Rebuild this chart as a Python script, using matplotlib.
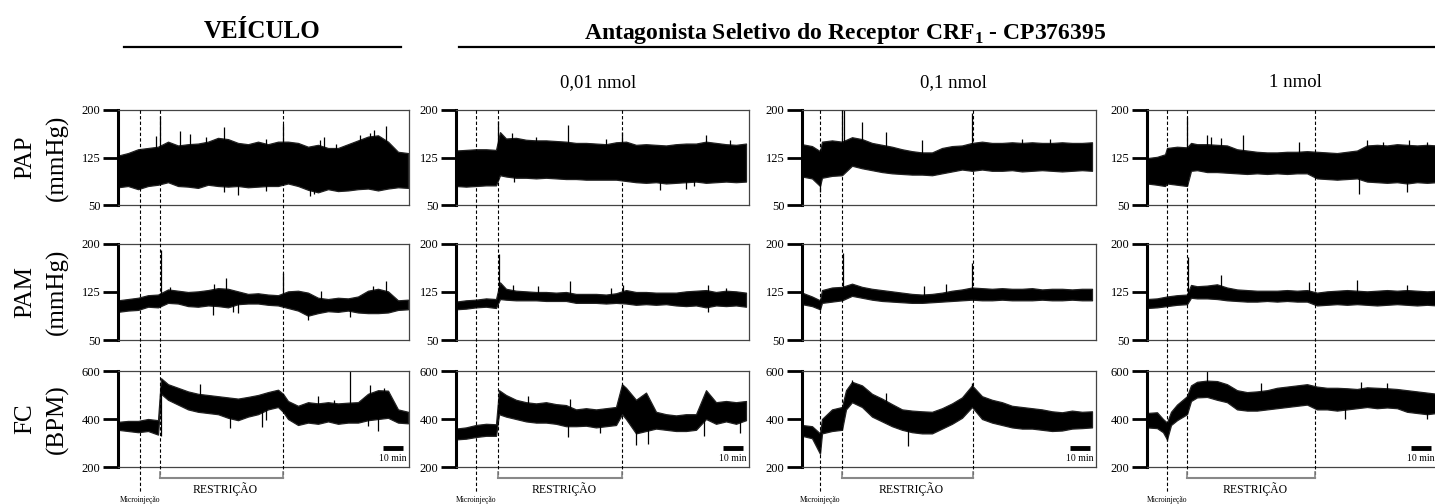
import numpy as np
import matplotlib.pyplot as plt
from matplotlib.lines import Line2D
from matplotlib import transforms

plt.rcParams['font.family'] = 'Liberation Serif'
plt.rcParams['mathtext.fontset'] = 'custom'
plt.rcParams['mathtext.rm'] = 'Liberation Serif'
plt.rcParams['mathtext.bf'] = 'Liberation Serif:bold'

# ---- groups and protocol timing (minutes) ----
dose_labels = ['0,01 nmol', '0,1 nmol', '1 nmol']
rec_len = [145.5, 146.5, 147, 145]
micro_t = [11, 10, 9, 10]
restr_on = [21, 21, 20, 20]
restr_off = [82.5, 83, 85.5, 84]

# ---- VEÍCULO ----
veh_pap_t = [0, 5, 10, 15, 20, 25, 30, 35, 40, 45, 50, 55, 60, 65, 70, 75, 80, 85, 90, 95, 100, 105, 110, 115, 120, 125, 130, 135, 140, 145]
veh_pap_hi = [128, 132, 138, 140, 142, 150, 144, 146, 147, 150, 156, 154, 148, 146, 150, 146, 150, 150, 148, 142, 145, 140, 140, 146, 152, 158, 160, 150, 134, 132]
veh_pap_lo = [78, 80, 75, 80, 82, 86, 80, 79, 77, 82, 80, 79, 80, 78, 79, 80, 80, 84, 80, 74, 70, 75, 72, 73, 75, 76, 73, 76, 78, 77]
veh_pap_spk = [(21, 190), (36, 162), (53, 173), (82.5, 178), (103, 158), (128, 168), (134, 175),
               (19, 159), (31, 167), (44, 158), (74, 155), (101, 152), (109, 147), (121, 160), (126, 163),
               (96, 64), (60, 66), (53, 70), (98, 67), (74, 72)]

veh_pam_t = veh_pap_t
veh_pam_hi = [112, 114, 116, 120, 121, 129, 127, 125, 126, 128, 131, 130, 126, 122, 123, 121, 120, 126, 127, 124, 116, 114, 116, 115, 118, 127, 130, 126, 112, 113]
veh_pam_lo = [94, 96, 97, 102, 101, 108, 107, 103, 102, 104, 103, 101, 106, 107, 107, 105, 104, 100, 96, 88, 92, 95, 94, 96, 93, 92, 92, 93, 97, 98]
veh_pam_spk = [(21.5, 190), (54, 147), (82.5, 155), (134, 142), (26, 133), (48, 137), (101.5, 126), (127.5, 134),
               (95, 81), (60, 92), (47.5, 89), (57.5, 94), (116, 86)]

veh_fc_t = [0, 5, 10, 15, 20, 21.5, 25, 30, 35, 40, 45, 50, 55, 60, 65, 70, 75, 80, 82.5, 85, 90, 95, 100, 105, 110, 115, 120, 125, 130, 135, 140, 145]
veh_fc_hi = [388, 392, 392, 400, 395, 570, 545, 530, 515, 505, 500, 495, 490, 485, 492, 500, 512, 522, 505, 475, 455, 470, 465, 470, 465, 468, 470, 505, 520, 518, 440, 430]
veh_fc_lo = [355, 350, 345, 350, 335, 505, 480, 460, 440, 430, 425, 420, 405, 395, 410, 420, 440, 450, 430, 400, 375, 385, 380, 390, 380, 385, 385, 395, 400, 405, 385, 382]
veh_fc_spk = [(116, 600), (126, 540), (41, 545), (100, 495), (108, 480), (133, 530),
              (21.5, 330), (72, 365), (130, 350), (56, 364), (74, 395), (125, 372)]

# ---- 0,01 nmol ----
d1_pap_t = [0, 5, 10, 15, 20, 22, 25, 30, 35, 40, 45, 50, 55, 60, 65, 70, 75, 80, 85, 90, 95, 100, 105, 110, 115, 120, 125, 130, 135, 140, 145]
d1_pap_hi = [136, 137, 138, 138, 137, 165, 155, 156, 153, 152, 152, 151, 150, 148, 148, 147, 146, 149, 150, 145, 146, 145, 144, 146, 147, 147, 150, 148, 146, 145, 147]
d1_pap_lo = [80, 79, 80, 81, 81, 97, 95, 93, 93, 92, 93, 92, 91, 91, 90, 90, 90, 90, 88, 86, 85, 86, 84, 85, 86, 87, 85, 86, 87, 86, 87]
d1_pap_spk = [(21, 183), (56, 176), (83, 165), (125, 160), (28, 163), (40, 157), (75, 155), (137, 152),
              (115, 75), (29, 87), (102, 74), (119, 80)]

d1_pam_t = d1_pap_t
d1_pam_hi = [110, 112, 113, 115, 114, 140, 130, 127, 126, 125, 125, 124, 125, 122, 122, 122, 121, 123, 128, 125, 125, 124, 124, 124, 126, 127, 128, 125, 127, 126, 124]
d1_pam_lo = [98, 99, 101, 102, 100, 114, 113, 112, 112, 112, 111, 111, 111, 108, 108, 108, 107, 108, 107, 105, 106, 105, 106, 104, 103, 104, 101, 104, 103, 104, 102]
d1_pam_spk = [(21.5, 184), (57, 142), (83.5, 136), (28.5, 136), (41, 134), (77.5, 131), (126, 136), (135, 131),
              (126, 94)]

d1_fc_t = [0, 5, 10, 15, 20, 21.5, 25, 30, 35, 40, 45, 50, 55, 60, 65, 70, 75, 80, 83, 85, 90, 95, 100, 105, 110, 115, 120, 125, 130, 135, 140, 145]
d1_fc_hi = [360, 365, 375, 380, 378, 520, 500, 480, 470, 465, 470, 462, 458, 440, 445, 440, 445, 450, 545, 530, 480, 510, 430, 420, 415, 420, 420, 520, 470, 475, 470, 475]
d1_fc_lo = [315, 318, 325, 330, 330, 420, 410, 400, 390, 385, 385, 380, 370, 370, 372, 365, 370, 375, 420, 400, 340, 350, 360, 355, 350, 350, 355, 400, 380, 390, 380, 395]
d1_fc_spk = [(36, 495), (57, 485), (56, 323), (90, 290), (96, 295), (124, 330), (142, 340), (72, 340)]

# ---- 0,1 nmol ----
d2_pap_t = [0, 5, 9, 10, 15, 20, 25, 30, 35, 40, 45, 50, 55, 60, 65, 70, 75, 80, 85, 90, 95, 100, 105, 110, 115, 120, 125, 130, 135, 140, 145]
d2_pap_hi = [146, 143, 135, 150, 152, 150, 157, 154, 148, 145, 142, 138, 135, 133, 133, 140, 143, 144, 148, 150, 148, 148, 149, 148, 149, 148, 148, 149, 148, 148, 149]
d2_pap_lo = [95, 92, 80, 93, 96, 97, 112, 108, 105, 102, 100, 99, 98, 98, 97, 100, 103, 106, 104, 106, 104, 104, 105, 103, 104, 105, 104, 103, 104, 105, 104]
d2_pap_spk = [(20, 200), (21, 200), (30, 181), (42, 165), (60, 153), (85, 195), (110, 155), (124, 154), (9, 70)]

d2_pam_t = d2_pap_t
d2_pam_hi = [124, 118, 112, 128, 132, 133, 138, 133, 130, 128, 126, 124, 122, 121, 122, 124, 127, 129, 132, 131, 130, 131, 130, 130, 131, 129, 130, 130, 129, 130, 130]
d2_pam_lo = [106, 103, 98, 108, 110, 112, 119, 116, 113, 111, 110, 109, 108, 108, 109, 110, 111, 112, 113, 112, 112, 113, 112, 112, 112, 113, 112, 112, 113, 112, 112]
d2_pam_spk = [(20.5, 186), (61, 135), (72, 138), (85, 170), (9, 97)]

d2_fc_t = [0, 5, 9, 10, 15, 20, 22, 25, 30, 35, 40, 45, 50, 55, 60, 65, 70, 75, 80, 85, 90, 95, 100, 105, 110, 115, 120, 125, 130, 135, 140, 145]
d2_fc_hi = [375, 370, 340, 400, 440, 450, 520, 555, 540, 505, 485, 462, 440, 435, 432, 430, 445, 465, 490, 540, 495, 480, 470, 455, 450, 445, 440, 432, 428, 435, 430, 432]
d2_fc_lo = [330, 320, 255, 340, 350, 355, 440, 470, 450, 410, 390, 370, 355, 345, 340, 340, 360, 380, 405, 450, 400, 385, 375, 365, 360, 360, 355, 350, 352, 360, 362, 365]
d2_fc_spk = [(25, 562), (85, 550), (42, 510), (53, 287)]

# ---- 1 nmol ----
d3_pap_t = [0, 5, 9, 10, 15, 20, 22, 25, 30, 35, 40, 45, 50, 55, 60, 65, 70, 75, 80, 85, 90, 95, 100, 105, 110, 115, 120, 125, 130, 135, 140, 145]
d3_pap_hi = [124, 126, 130, 140, 142, 141, 148, 146, 146, 145, 144, 138, 136, 134, 133, 133, 134, 134, 135, 134, 133, 132, 134, 136, 144, 145, 144, 146, 145, 144, 145, 144]
d3_pap_lo = [84, 82, 80, 84, 82, 80, 104, 105, 102, 102, 101, 100, 99, 100, 99, 100, 99, 100, 100, 92, 91, 90, 91, 92, 87, 86, 85, 86, 84, 86, 85, 86]
d3_pap_spk = [(20, 189), (30, 160), (48, 160), (110, 152), (32, 158), (37, 156), (76, 150), (118, 150),
              (131, 152), (140, 150), (106, 67), (130, 70)]

d3_pam_t = [0, 5, 10, 15, 20, 22, 25, 30, 35, 40, 45, 50, 55, 60, 65, 70, 75, 80, 85, 90, 95, 100, 105, 110, 115, 120, 125, 130, 135, 140, 145]
d3_pam_hi = [114, 115, 118, 120, 121, 136, 134, 135, 137, 132, 129, 128, 127, 127, 127, 128, 127, 128, 124, 126, 127, 128, 127, 126, 127, 128, 127, 128, 127, 126, 127]
d3_pam_lo = [100, 101, 103, 105, 106, 116, 115, 115, 114, 112, 111, 110, 110, 111, 110, 111, 110, 110, 104, 105, 106, 105, 106, 105, 104, 105, 106, 105, 104, 105, 104]
d3_pam_spk = [(20.5, 180), (37, 151), (81, 140), (105, 144), (130, 136)]

d3_fc_t = [0, 5, 8, 10, 12, 15, 20, 22, 25, 30, 35, 40, 45, 50, 55, 60, 65, 70, 75, 80, 85, 90, 95, 100, 105, 110, 115, 120, 125, 130, 135, 140, 145]
d3_fc_hi = [425, 428, 400, 385, 430, 460, 495, 540, 555, 560, 558, 545, 520, 512, 515, 520, 530, 535, 540, 545, 535, 530, 530, 528, 525, 532, 530, 528, 525, 520, 515, 510, 505]
d3_fc_lo = [365, 362, 345, 315, 375, 395, 420, 475, 490, 492, 480, 470, 440, 435, 435, 440, 445, 450, 455, 460, 440, 440, 435, 440, 445, 450, 445, 448, 445, 430, 425, 420, 425]
d3_fc_spk = [(30, 600), (57, 550), (107, 555), (120, 552), (10, 310), (99, 400), (140, 400)]

traces = [
    [(veh_pap_t, veh_pap_hi, veh_pap_lo, veh_pap_spk),
     (veh_pam_t, veh_pam_hi, veh_pam_lo, veh_pam_spk),
     (veh_fc_t, veh_fc_hi, veh_fc_lo, veh_fc_spk)],
    [(d1_pap_t, d1_pap_hi, d1_pap_lo, d1_pap_spk),
     (d1_pam_t, d1_pam_hi, d1_pam_lo, d1_pam_spk),
     (d1_fc_t, d1_fc_hi, d1_fc_lo, d1_fc_spk)],
    [(d2_pap_t, d2_pap_hi, d2_pap_lo, d2_pap_spk),
     (d2_pam_t, d2_pam_hi, d2_pam_lo, d2_pam_spk),
     (d2_fc_t, d2_fc_hi, d2_fc_lo, d2_fc_spk)],
    [(d3_pap_t, d3_pap_hi, d3_pap_lo, d3_pap_spk),
     (d3_pam_t, d3_pam_hi, d3_pam_lo, d3_pam_spk),
     (d3_fc_t, d3_fc_hi, d3_fc_lo, d3_fc_spk)],
]

row_names = [('PAP', '(mmHg)'), ('PAM', '(mmHg)'), ('FC', '(BPM)')]
row_lims = [(50, 200), (50, 200), (200, 600)]
row_ticks = [[50, 125, 200], [50, 125, 200], [200, 400, 600]]

# ---- figure layout in pixels ----
W, H = 1435, 504
col_left = [118, 456, 802, 1147]
col_right = [409, 749, 1096, 1437]
row_top = [110, 244, 371]
row_bot = [205, 340, 467]


def fx(x):
    return x / W


def fy(y):
    return 1 - y / H


def draw_trace(ax, t, hi, lo, spikes):
    t = np.asarray(t, dtype=float)
    hi = np.asarray(hi, dtype=float)
    lo = np.asarray(lo, dtype=float)
    ax.fill_between(t, lo, hi, facecolor='black', edgecolor='#222222', lw=0.9)
    mid = (hi + lo) / 2
    for st, sv in spikes:
        ax.vlines(st, np.interp(st, t, mid), sv, color='black', lw=0.9)


fig = plt.figure(figsize=(W / 100, H / 100), dpi=100)

for c in range(4):
    axes = []
    for r in range(3):
        ax = fig.add_axes([fx(col_left[c]), fy(row_bot[r]),
                           (col_right[c] - col_left[c]) / W,
                           (row_bot[r] - row_top[r]) / H])
        t, hi, lo, spk = traces[c][r]
        draw_trace(ax, t, hi, lo, spk)
        ax.set_xlim(0, rec_len[c])
        ax.set_ylim(*row_lims[r])
        ax.set_yticks(row_ticks[r])
        ax.set_xticks([])
        ax.tick_params(axis='y', direction='out', length=11, width=2,
                       pad=1.5, labelsize=9)
        for side in ['top', 'right', 'bottom']:
            ax.spines[side].set_linewidth(0.9)
            ax.spines[side].set_color('#444444')
        ax.spines['left'].set_linewidth(2.2)
        axes.append(ax)

    ax_fc = axes[2]
    T = rec_len[c]
    # 10 min scale bar
    ax_fc.plot([T - 13, T - 3], [280, 280], color='black', lw=3.5,
               solid_capstyle='butt')
    ax_fc.text(T - 8, 237, '10 min', ha='center', va='center', fontsize=7)

    # event markers running through all three panels
    trans = transforms.blended_transform_factory(ax_fc.transData, fig.transFigure)
    dash = dict(transform=trans, color='black', lw=0.8, ls=(0, (3, 2)))
    fig.add_artist(Line2D([micro_t[c]] * 2, [fy(110), fy(493)], **dash))
    for ev in (restr_on[c], restr_off[c]):
        fig.add_artist(Line2D([ev] * 2, [fy(110), fy(478)], **dash))
        fig.add_artist(Line2D([ev] * 2, [fy(472), fy(478)], transform=trans,
                              color='#888888', lw=1.2))
    fig.add_artist(Line2D([restr_on[c], restr_off[c]], [fy(478)] * 2,
                          transform=trans, color='#888888', lw=1.5))
    fig.text((restr_on[c] + restr_off[c]) / 2 + 2, fy(489), 'RESTRIÇÃO',
             transform=trans, ha='center', va='center', fontsize=8.5)
    fig.text(micro_t[c], fy(500), 'Microinjeção', transform=trans,
             ha='center', va='center', fontsize=5.5)

# row labels
for r, (name, unit) in enumerate(row_names):
    yc = fy((row_top[r] + row_bot[r]) / 2)
    fig.text(fx(25), yc, name, rotation=90, ha='center', va='center', fontsize=18)
    fig.text(fx(57), yc, unit, rotation=90, ha='center', va='center', fontsize=18)

# group headings
fig.text(fx(262), fy(38), 'VEÍCULO', ha='center', va='baseline',
         fontsize=18, fontweight='bold')
fig.add_artist(Line2D([fx(124), fx(401)], [fy(47)] * 2, color='black', lw=1.6))
fig.text(fx(845), fy(39), r'Antagonista Seletivo do Receptor CRF$_{\mathbf{1}}$ - CP376395',
         ha='center', va='baseline', fontsize=17, fontweight='bold')
fig.add_artist(Line2D([fx(459), fx(1435)], [fy(47)] * 2, color='black', lw=1.6))

for x, lab in zip([598, 953, 1295], dose_labels):
    fig.text(fx(x), fy(87), lab, ha='center', va='baseline', fontsize=13.5)

fig.savefig('out.png', dpi=100)
